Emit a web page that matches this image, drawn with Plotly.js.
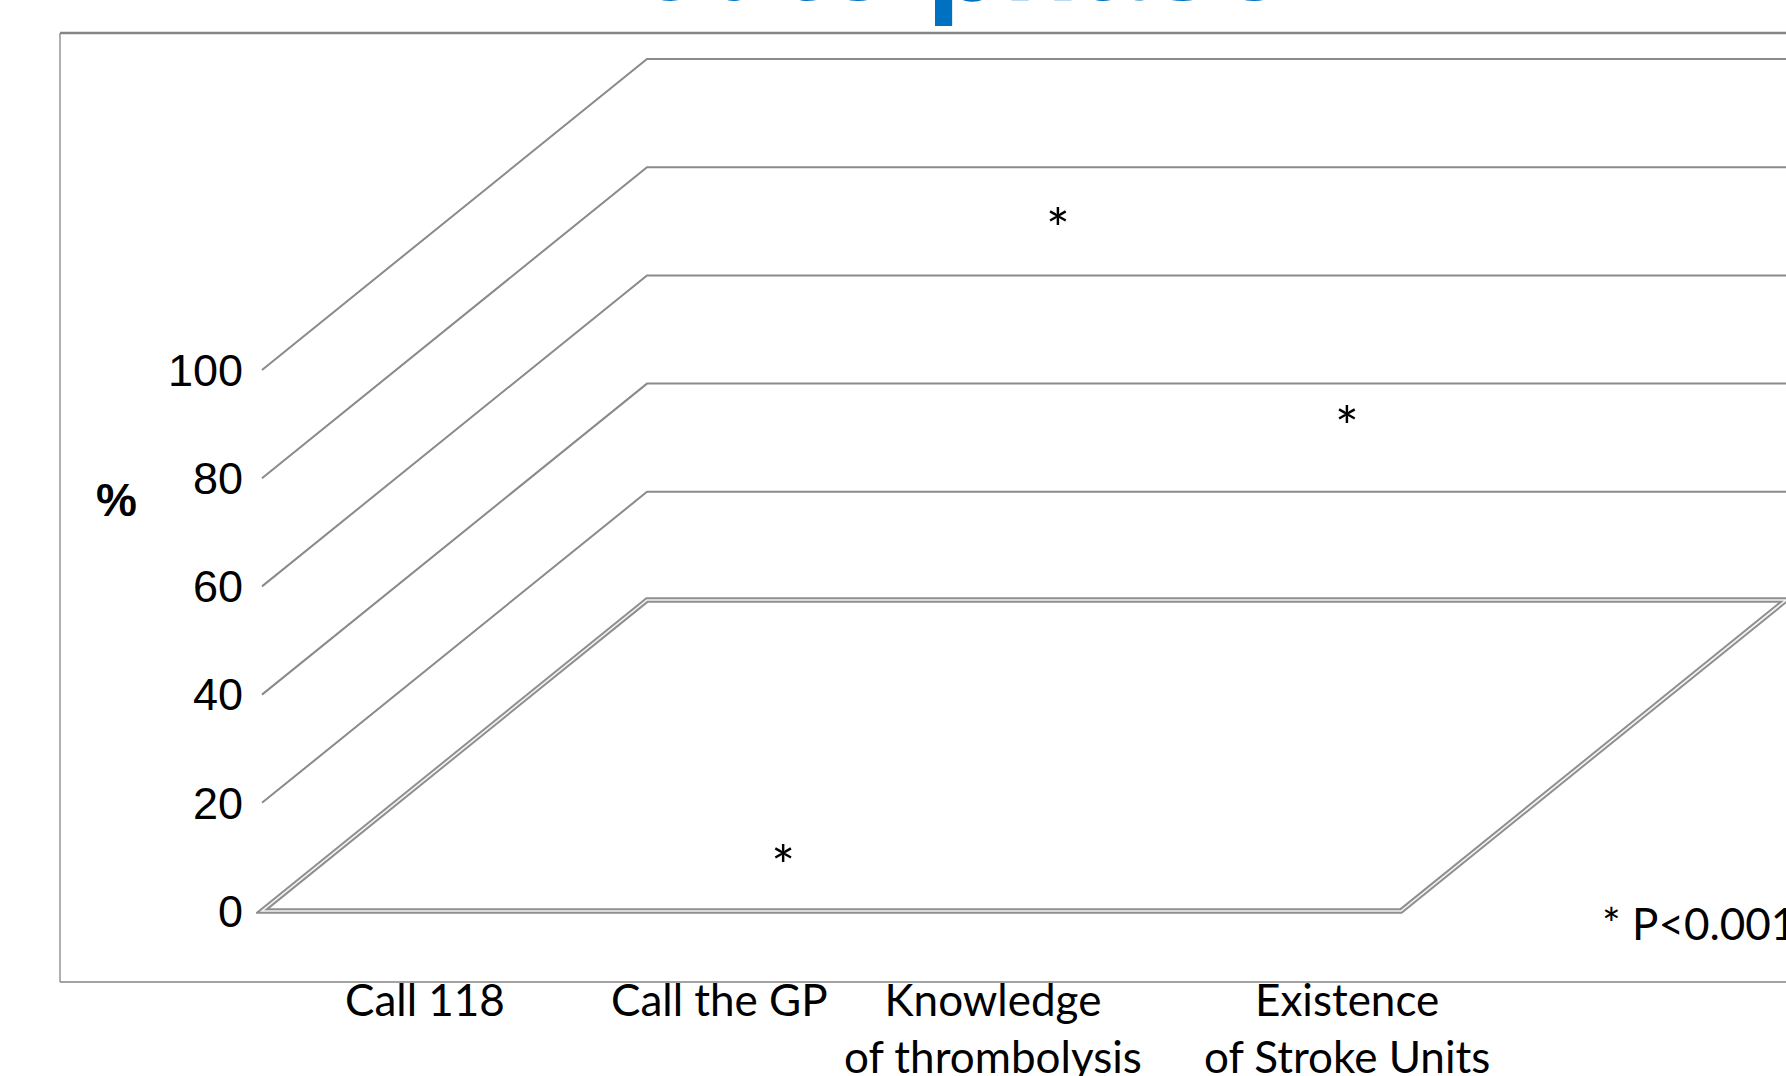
<!DOCTYPE html>
<html><head><meta charset="utf-8">
<script src="https://cdn.plot.ly/plotly-3.0.1.min.js"></script>
<style>
html,body{margin:0;padding:0;overflow:hidden;background:#fff;width:1786px;height:1076px}
#chart{position:absolute;left:0;top:-200px;width:1786px;height:1276px}
</style>
</head><body><div id="chart"></div>
<script>
// ---------- data ----------
const chartTitle = 'Acute phase';
const categories = ['Call 118', 'Call the GP', 'Knowledge<br>of thrombolysis', 'Existence<br>of Stroke Units'];
const yTicks = [0, 20, 40, 60, 80, 100];
const yTickText = ['0', '20', '40', '60', '80', '100'];
const significant = [false, true, true, true];
const asteriskLevel = [null, 7.3, 124.9, 88.3];   // level (in % axis units) where the * sits in the picture
const footnote = '* P<0.001';
const yLabel = '%';

// ---------- layout geometry (pixels) ----------
const W = 1786, H = 1076, SHIFT = 200;
const X0 = 262, Y0 = 911;          // front-left corner of the floor
const PX_X = 284.75;               // px per category along the front edge
const PX_Y = 5.41;                 // px per % on the vertical scale
const DEPTH_X = 385 / PX_X, DEPTH_Y = 311 / PX_Y;   // 3-D depth offset in axis units
const PLOT_L = 256, PLOT_T = 45, PLOT_B = 930;
const labelCenters = [425, 719, 993, 1347];
const asteriskShift = [0, 0.33, 0.295, 0.31];

const xRange = [(PLOT_L - X0) / PX_X, (W - X0) / PX_X];
const yRange = [(Y0 - PLOT_B) / PX_Y, (Y0 - PLOT_T) / PX_Y];
const paperX = px => (px - PLOT_L) / (W - PLOT_L);
const paperY = py => (PLOT_B - py) / (PLOT_B - PLOT_T);

const nCat = categories.length;
const gridColor = '#8a8a8a';
const shapes = [];

// perspective gridlines (left wall diagonal + back wall horizontal)
yTicks.forEach(v => {
  if (v === 0) return;
  shapes.push({type: 'path', xref: 'x', yref: 'y', layer: 'below',
    path: `M 0,${v} L ${DEPTH_X},${v + DEPTH_Y} L ${xRange[1] + 0.05},${v + DEPTH_Y}`,
    line: {color: gridColor, width: 2}});
});
// floor slab (double outline)
const floorPath = `M 0,0 L ${nCat},0 L ${nCat + DEPTH_X},${DEPTH_Y} L ${DEPTH_X},${DEPTH_Y} Z`;
shapes.push({type: 'path', xref: 'x', yref: 'y', layer: 'below', path: floorPath,
  line: {color: '#8f8f8f', width: 5.5}});
shapes.push({type: 'path', xref: 'x', yref: 'y', layer: 'below', path: floorPath,
  line: {color: '#f4f4f4', width: 1.6}});
// outer frame
shapes.push({type: 'line', xref: 'paper', yref: 'paper', x0: paperX(60), x1: paperX(1800), y0: paperY(33), y1: paperY(33), line: {color: '#858585', width: 2.5}});
shapes.push({type: 'line', xref: 'paper', yref: 'paper', x0: paperX(60), x1: paperX(60), y0: paperY(33), y1: paperY(982), line: {color: '#858585', width: 1.3}});
shapes.push({type: 'line', xref: 'paper', yref: 'paper', x0: paperX(60), x1: paperX(1800), y0: paperY(982), y1: paperY(982), line: {color: '#858585', width: 1.5}});

const catFont = {family: 'Lato, "Open Sans", sans-serif', size: 44, color: '#000'};
const annotations = [];
categories.forEach((c, i) => {
  annotations.push({text: c, xref: 'paper', yref: 'paper', x: paperX(labelCenters[i]), y: paperY(970.5),
    xanchor: 'center', yanchor: 'top', showarrow: false, align: 'center', font: catFont});
});
annotations.push({text: yLabel, xref: 'paper', yref: 'paper', x: paperX(116), y: paperY(500),
  xanchor: 'center', yanchor: 'middle', showarrow: false,
  font: {family: '"Liberation Sans", Arial, sans-serif', size: 46, color: '#000', weight: 'bold'}});
annotations.push({text: footnote, xref: 'paper', yref: 'paper', x: paperX(1600), y: paperY(923),
  xanchor: 'left', yanchor: 'middle', showarrow: false, font: catFont});

const sx = [], sy = [];
significant.forEach((s, i) => { if (s) { sx.push(i + 0.5 + asteriskShift[i]); sy.push(asteriskLevel[i]); } });

const traces = [{
  type: 'scatter', mode: 'text', x: sx, y: sy, text: sx.map(() => '*'),
  textposition: 'middle center', textfont: {family: 'Lato, sans-serif', size: 56, color: '#000'}, cliponaxis: false,
  hoverinfo: 'skip', showlegend: false
}];

const layout = {
  width: W, height: H + SHIFT,
  margin: {l: PLOT_L, r: 0, t: PLOT_T + SHIFT, b: H - PLOT_B, pad: 0},
  paper_bgcolor: '#fff', plot_bgcolor: 'rgba(0,0,0,0)',
  title: {text: chartTitle, xref: 'container', x: 916 / W, xanchor: 'center',
    yref: 'container', y: 0.8779, yanchor: 'middle',
    font: {family: '"Liberation Sans", Arial, sans-serif', size: 125, color: '#0070C0', weight: 'bold'}},
  xaxis: {range: xRange, visible: false, fixedrange: true},
  yaxis: {range: yRange, tickvals: yTicks, ticktext: yTickText, showgrid: false, zeroline: false,
    showline: false, ticks: '', ticklabelstandoff: 12,
    tickfont: {family: '"Liberation Sans", Arial, sans-serif', size: 45, color: '#000'}, fixedrange: true},
  shapes: shapes, annotations: annotations, showlegend: false
};

Plotly.newPlot('chart', traces, layout, {displayModeBar: false, staticPlot: true});
</script>
</body></html>
